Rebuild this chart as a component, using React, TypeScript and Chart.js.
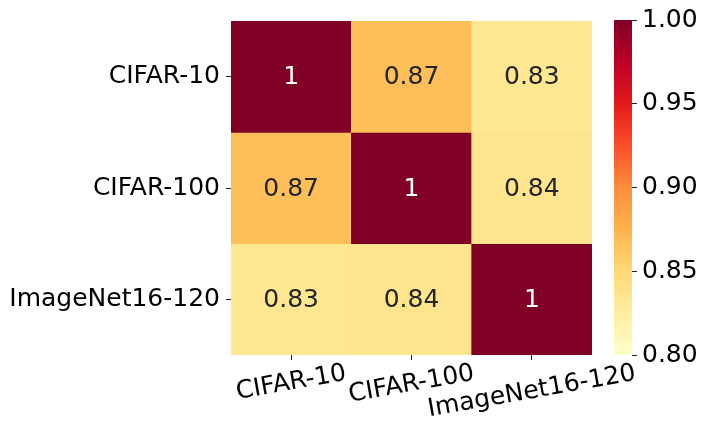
import React, { useEffect, useRef } from "react";
import { Chart, registerables } from "chart.js";

Chart.register(...registerables);

const categories = ["CIFAR-10", "CIFAR-100", "ImageNet16-120"];
const rowCifar10 = [1, 0.867, 0.834];
const rowCifar100 = [0.867, 1, 0.836];
const rowImageNet = [0.834, 0.836, 1];
const matrixRows = [rowCifar10, rowCifar100, rowImageNet];
const colorbarTicks = [0.8, 0.85, 0.9, 0.95, 1.0];
const vmin = 0.8;
const vmax = 1.0;

const YLORRD = ["#ffffcc", "#ffeda0", "#fed976", "#feb24c", "#fd8d3c", "#fc4e2a", "#e31a1c", "#bd0026", "#800026"];
const FONT = "DejaVu Sans";

function hexToRgb(h: string) {
  return [parseInt(h.slice(1, 3), 16), parseInt(h.slice(3, 5), 16), parseInt(h.slice(5, 7), 16)];
}

function cmapRgb(v: number) {
  let t = (v - vmin) / (vmax - vmin);
  t = Math.max(0, Math.min(1, t));
  const pos = t * (YLORRD.length - 1);
  const i = Math.min(Math.floor(pos), YLORRD.length - 2);
  const f = pos - i;
  const a = hexToRgb(YLORRD[i]);
  const b = hexToRgb(YLORRD[i + 1]);
  return a.map((c, k) => Math.round(c + (b[k] - c) * f));
}

function cmap(v: number) {
  const [r, g, b] = cmapRgb(v);
  return `rgb(${r},${g},${b})`;
}

function textColorFor(v: number) {
  const rgb = cmapRgb(v).map((c) => {
    const s = c / 255;
    return s <= 0.03928 ? s / 12.92 : Math.pow((s + 0.055) / 1.055, 2.4);
  });
  const lum = 0.2126 * rgb[0] + 0.7152 * rgb[1] + 0.0722 * rgb[2];
  return lum > 0.408 ? "#262626" : "#ffffff";
}

function fmt(v: number) {
  return String(Number(v.toPrecision(2)));
}

export default function App() {
  const heatRef = useRef<HTMLCanvasElement>(null);
  const barRef = useRef<HTMLCanvasElement>(null);

  useEffect(() => {
    document.body.style.margin = "0";
    const annotate = {
      id: "annotate",
      afterDatasetsDraw(chart: any) {
        const ctx = chart.ctx;
        ctx.save();
        ctx.font = `25px '${FONT}'`;
        ctx.textAlign = "center";
        ctx.textBaseline = "middle";
        chart.data.datasets.forEach((ds: any, r: number) => {
          const meta = chart.getDatasetMeta(r);
          meta.data.forEach((el: any, c: number) => {
            const v = matrixRows[r][c];
            const p = el.getCenterPoint();
            ctx.fillStyle = textColorFor(v);
            ctx.fillText(fmt(v), p.x, p.y + 1);
          });
        });
        ctx.restore();
      },
    };
    const xLabels = {
      id: "xLabels",
      afterDraw(chart: any) {
        const ctx = chart.ctx;
        const xs = chart.scales.x;
        const ang = (10 * Math.PI) / 180;
        ctx.save();
        ctx.font = `25px '${FONT}'`;
        ctx.fillStyle = "#000";
        ctx.textAlign = "center";
        ctx.textBaseline = "middle";
        categories.forEach((lab, i) => {
          const x = xs.getPixelForValue(i);
          const w = ctx.measureText(lab).width;
          const h = 29;
          const H = w * Math.sin(ang) + h * Math.cos(ang);
          const top = chart.chartArea.bottom + 4;
          ctx.save();
          ctx.translate(x, top + H / 2);
          ctx.rotate(-ang);
          ctx.fillText(lab, 0, 0);
          ctx.restore();
        });
        ctx.restore();
      },
    };

    const heat = new Chart(heatRef.current!, {
      type: "bar",
      data: {
        labels: categories,
        datasets: matrixRows.map((row, r) => ({
          label: categories[r],
          data: row.map(() => [r, r + 1]),
          backgroundColor: row.map((v) => cmap(v)),
          borderWidth: 0,
          barPercentage: 1,
          categoryPercentage: 1,
          grouped: false,
        })) as any,
      },
      options: {
        animation: false,
        responsive: false,
        events: [],
        layout: { padding: { top: 19, right: 114, left: 0, bottom: 0 } },
        plugins: { legend: { display: false }, tooltip: { enabled: false } },
        scales: {
          x: {
            type: "category",
            offset: true,
            grid: { drawOnChartArea: false, drawTicks: true, tickLength: 5, color: "#222", offset: false, lineWidth: 1 },
            border: { display: false },
            ticks: { display: false },
            afterFit: (s: any) => { s.height = 80; },
          },
          y: {
            type: "linear",
            min: 0,
            max: 3,
            reverse: true,
            afterBuildTicks: (s: any) => { s.ticks = [0.5, 1.5, 2.5].map((value) => ({ value })); },
            ticks: {
              callback: (v: any) => categories[Math.floor(Number(v))],
              font: { family: FONT, size: 25 },
              color: "#000",
              padding: 6,
            },
            grid: { drawOnChartArea: false, drawTicks: true, tickLength: 5, color: "#222", lineWidth: 1 },
            border: { display: false },
            afterFit: (s: any) => { s.width = 231; },
          },
        },
      } as any,
      plugins: [annotate, xLabels],
    });

    const bar = new Chart(barRef.current!, {
      type: "bar",
      data: {
        labels: ["colorbar"],
        datasets: [
          {
            data: [[vmin, vmax]] as any,
            borderWidth: 0,
            barPercentage: 1,
            categoryPercentage: 1,
            backgroundColor: (c: any) => {
              const chart = c.chart;
              if (!chart.chartArea) return YLORRD[4];
              const y = chart.scales.y;
              const g = chart.ctx.createLinearGradient(0, y.getPixelForValue(vmin), 0, y.getPixelForValue(vmax));
              YLORRD.forEach((col, i) => g.addColorStop(i / (YLORRD.length - 1), col));
              return g;
            },
          },
        ],
      },
      options: {
        animation: false,
        responsive: false,
        events: [],
        layout: { padding: { top: 19, right: 0, left: 614, bottom: 80 } },
        plugins: { legend: { display: false }, tooltip: { enabled: false } },
        scales: {
          x: { display: false, offset: true },
          y: {
            type: "linear",
            position: "right",
            min: vmin,
            max: vmax,
            afterBuildTicks: (s: any) => { s.ticks = colorbarTicks.map((value) => ({ value })); },
            ticks: {
              callback: (v: any) => Number(v).toFixed(2),
              font: { family: FONT, size: 25 },
              color: "#000",
              padding: 5,
            },
            grid: { drawOnChartArea: false, drawTicks: true, tickLength: 5, color: "#222", lineWidth: 1 },
            border: { display: false },
            afterFit: (s: any) => { s.width = 74; },
          },
        },
      } as any,
    });

    return () => {
      heat.destroy();
      bar.destroy();
    };
  }, []);

  return (
    <div style={{ position: "relative", width: 706, height: 435 }}>
      <canvas ref={heatRef} width={706} height={435} style={{ position: "absolute", left: 0, top: 0 }} />
      <canvas ref={barRef} width={706} height={435} style={{ position: "absolute", left: 0, top: 0 }} />
    </div>
  );
}
